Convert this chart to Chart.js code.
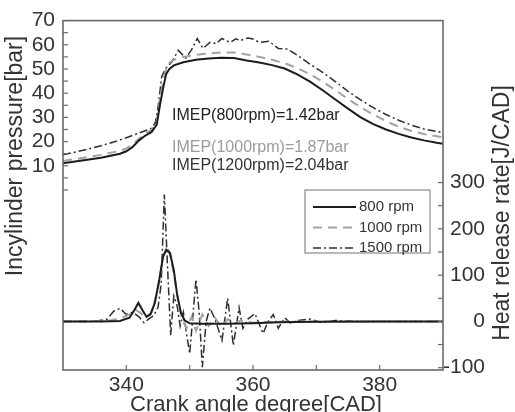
<!DOCTYPE html>
<html lang="en">
<head>
<meta charset="UTF-8" />
<title>Incylinder pressure and heat release rate</title>
<script src="https://cdn.jsdelivr.net/npm/chart.js"></script>
<style>
  html, body { margin: 0; padding: 0; background: #fff; }
</style>
</head>
<body>
<canvas id="chart" width="515" height="412"></canvas>
<script>
// crank angle grids [CAD]
const cadP = [330,333,336,339,340,341,342,343,344,344.8,345.3,345.8,346.3,346.8,347.5,349,351,353,355,357,359,361,363,365,367,369,371,373,375,377,379,381,383,385,387,389,390];
const cadP1500 = [330,333,336,338,340,341,342,343,344,344.6,345.0,345.6,346.3,347.2,348.2,349.4,350.3,351.2,352.1,353.2,354.2,355.1,356.4,357.3,358,359.2,360,361,362.5,364,365.5,367,369,371,373,375,377,379,381,383,385,387,389,390];

// in-cylinder pressure [bar]
const p800  = [11.0,12.2,13.3,15.0,16.0,17.8,20.5,22.5,24.0,27.0,35.0,42.0,48.0,50.0,51.5,52.8,53.8,54.3,54.6,54.5,53.5,52.7,51.6,50.2,47.8,44.8,41.2,37.4,33.6,30.0,27.2,25.0,23.2,21.7,20.5,19.5,19.1];
const p1000 = [12.0,13.2,14.5,16.2,17.2,18.8,21.2,23.2,25.0,28.5,37.0,45.0,50.0,52.5,53.8,55.0,55.8,56.4,56.8,56.8,56.0,55.0,53.8,52.4,50.4,47.8,44.8,41.3,37.6,34.2,31.2,28.4,26.2,24.4,23.1,22.2,21.8];
const p1500 = [14.5,16.3,18.3,19.8,21.6,22.6,23.5,24.5,25.5,28,34,47,50.5,53,57.7,54.5,58,62.6,58.5,61,60.5,62.6,61,62.5,61.8,62.8,62.4,61,61.5,58.5,58.2,55.7,52,48.6,44.8,40.8,37.2,34.0,31.2,28.8,26.8,25.2,24.2,23.8];

// heat release rate [J/CAD]
const cadH800 = [330,336,339,340.5,341.3,341.9,342.5,343.2,343.8,344.5,345.2,345.8,346.3,346.9,347.5,348,348.6,349.2,350,352,356,360,364,370,380,390];
const h800    = [0,0,1,8,25,40,25,10,15,40,90,140,155,148,110,60,20,2,-4,-5,-5,-4,-2,-1,0,0];
const cadH1000 = [330,337,339,340.5,341.5,342.3,343,344,345,345.8,346.5,347,347.6,348.2,348.8,349.5,350.3,351,352,353,354,355,356,357,358,360,365,390];
const h1000    = [0,1,6,15,25,18,8,20,70,140,160,138,95,40,5,-15,10,-20,15,-10,8,-12,5,-5,2,-3,0,0];
const cadH1500 = [330,335,337,338,339,340,341,342,342.8,343.5,344.3,345,345.5,346,346.5,347,347.5,348,348.5,349,350,350.5,351,351.5,352,352.6,353.2,354,355.1,356,356.9,357.8,358.4,359.2,360.3,361.6,362.4,363.2,364,365,366,367,369,371,373,376,390];
const h1500    = [0,0,5,22,28,15,20,10,-3,5,12,30,80,274,120,-30,55,35,-10,20,-70,10,91,20,-99,0,29,5,-41,50,-52,30,-15,5,17,-26,0,15,-15,8,-5,2,5,-3,2,0,0];

const seriesLabels = ['800 rpm', '1000 rpm', '1500 rpm'];
const imepLabels = ['IMEP(800rpm)=1.42bar', 'IMEP(1000rpm)=1.87bar', 'IMEP(1200rpm)=2.04bar'];

const xTicks = [340, 360, 380];
const pTicks = [10, 20, 30, 40, 50, 60, 70];
const hTicks = [-100, 0, 100, 200, 300];

const FONT = "'Liberation Sans', Arial, sans-serif";
const styles = [
  { color: '#1c1c1c', width: 2, dash: [] },
  { color: '#a3a3a3', width: 2, dash: [9, 6] },
  { color: '#2e2e2e', width: 1.5, dash: [8, 3, 2, 3] }
];

function pts(xs, ys) {
  return xs.map((x, i) => ({ x: x, y: ys[i] }));
}

function ds(label, xs, ys, st, axis) {
  return {
    label: label,
    data: pts(xs, ys),
    yAxisID: axis,
    borderColor: st.color,
    borderWidth: st.width,
    borderDash: st.dash,
    pointRadius: 0,
    tension: 0,
    fill: false
  };
}

// frame, inward ticks, titles, IMEP notes and legend
const decor = {
  id: 'decor',
  afterDatasetsDraw(chart) {
    const ctx = chart.ctx;
    const a = chart.chartArea;
    const x = chart.scales.x, yP = chart.scales.yP, yH = chart.scales.yH;
    ctx.save();

    ctx.strokeStyle = '#6a6a6a';
    ctx.lineWidth = 1.2;
    for (let v = 0; v <= 70; v += 5) {
      const y = yP.getPixelForValue(v);
      ctx.beginPath(); ctx.moveTo(a.left, y); ctx.lineTo(a.left + 5, y); ctx.stroke();
    }
    for (let v = -100; v <= 300; v += 50) {
      const y = yH.getPixelForValue(v);
      ctx.beginPath(); ctx.moveTo(a.right, y); ctx.lineTo(a.right - 5, y); ctx.stroke();
    }
    for (let v = 340; v <= 380; v += 10) {
      const px = x.getPixelForValue(v);
      ctx.beginPath(); ctx.moveTo(px, a.bottom); ctx.lineTo(px, a.bottom - 5); ctx.stroke();
    }
    ctx.lineWidth = 1.6;
    ctx.strokeRect(a.left, a.top, a.right - a.left, a.bottom - a.top);

    // axis titles
    ctx.fillStyle = '#333';
    ctx.textAlign = 'center';
    ctx.textBaseline = 'middle';
    ctx.font = '23px ' + FONT;
    ctx.save(); ctx.translate(16, 156); ctx.rotate(-Math.PI / 2);
    ctx.fillText('Incylinder pressure[bar]', 0, 0); ctx.restore();
    ctx.save(); ctx.translate(503, 213); ctx.rotate(-Math.PI / 2);
    ctx.fillText('Heat release rate[J/CAD]', 0, 0); ctx.restore();
    ctx.font = '22px ' + FONT;
    ctx.textBaseline = 'alphabetic';
    ctx.fillText('Crank angle degree[CAD]', 256, 411);

    // IMEP notes
    ctx.textAlign = 'left';
    ctx.textBaseline = 'middle';
    ctx.font = '16px ' + FONT;
    const noteY = [116, 148, 166];
    const noteC = ['#222', '#9c9c9c', '#333'];
    imepLabels.forEach((t, i) => {
      ctx.fillStyle = noteC[i];
      ctx.fillText(t, 172, noteY[i]);
    });

    // legend
    const lx = 305, ly = 190, lw = 125, lh = 63;
    ctx.fillStyle = '#fff';
    ctx.fillRect(lx, ly, lw, lh);
    ctx.strokeStyle = '#8a8a8a';
    ctx.lineWidth = 1.2;
    ctx.strokeRect(lx, ly, lw, lh);
    ctx.font = '15px ' + FONT;
    seriesLabels.forEach((t, i) => {
      const yy = ly + 17 + i * 20.5;
      const st = styles[i];
      ctx.strokeStyle = st.color;
      ctx.lineWidth = st.width;
      ctx.setLineDash(st.dash);
      ctx.beginPath(); ctx.moveTo(lx + 8, yy); ctx.lineTo(lx + 51, yy); ctx.stroke();
      ctx.setLineDash([]);
      ctx.fillStyle = '#333';
      ctx.fillText(t, lx + 54, yy);
    });
    ctx.restore();
  }
};

const tickFont = { family: FONT, size: 21 };

new Chart(document.getElementById('chart'), {
  type: 'line',
  data: {
    datasets: [
      ds('p ' + seriesLabels[0], cadP, p800, styles[0], 'yP'),
      ds('p ' + seriesLabels[1], cadP, p1000, styles[1], 'yP'),
      ds('p ' + seriesLabels[2], cadP1500, p1500, styles[2], 'yP'),
      ds(seriesLabels[0], cadH800, h800, styles[0], 'yH'),
      ds(seriesLabels[1], cadH1000, h1000, styles[1], 'yH'),
      ds(seriesLabels[2], cadH1500, h1500, styles[2], 'yH')
    ]
  },
  options: {
    responsive: false,
    animation: false,
    devicePixelRatio: 1,
    layout: { padding: { top: 15, left: 0, right: 30, bottom: 0 } },
    plugins: {
      legend: { display: false },
      tooltip: { enabled: false }
    },
    scales: {
      x: {
        type: 'linear',
        min: 330,
        max: 390,
        afterBuildTicks: s => { s.ticks = xTicks.map(v => ({ value: v })); },
        afterFit: s => { s.height = 42; },
        grid: { display: false, drawTicks: false },
        border: { display: false },
        ticks: { font: tickFont, color: '#333', padding: 3, maxRotation: 0 }
      },
      yP: {
        type: 'linear',
        position: 'left',
        min: -74.4,
        max: 70,
        afterBuildTicks: s => { s.ticks = pTicks.map(v => ({ value: v })); },
        afterFit: s => { s.width = 63; },
        grid: { display: false, drawTicks: false },
        border: { display: false },
        ticks: { font: tickFont, color: '#333', padding: 8 }
      },
      yH: {
        type: 'linear',
        position: 'right',
        min: -105,
        max: 650,
        afterBuildTicks: s => { s.ticks = hTicks.map(v => ({ value: v })); },
        afterFit: s => { s.width = 42; },
        grid: { display: false, drawTicks: false },
        border: { display: false },
        ticks: { font: tickFont, color: '#333', padding: 0, crossAlign: 'far' }
      }
    }
  },
  plugins: [decor]
});
</script>
</body>
</html>
